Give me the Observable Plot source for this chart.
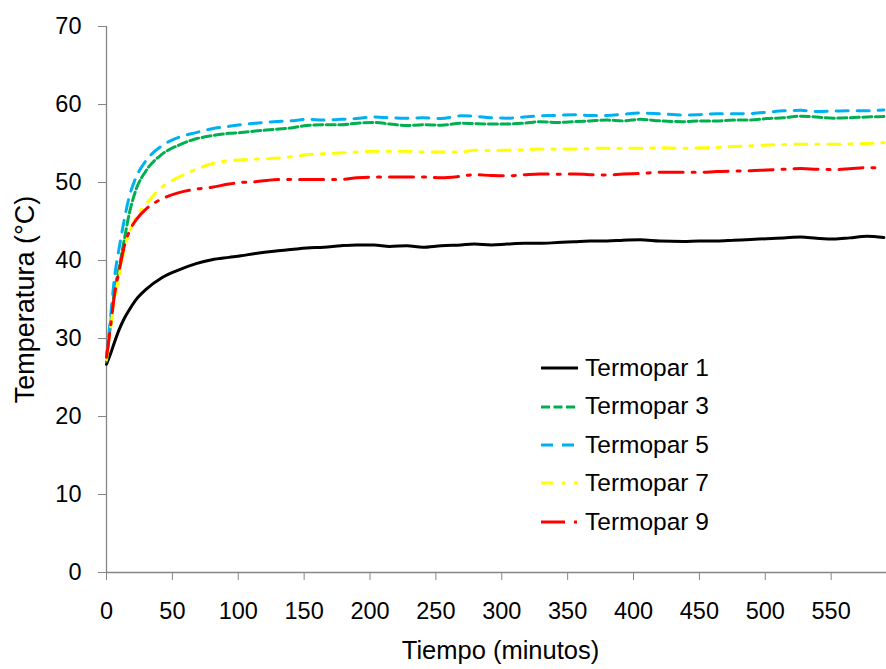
<!DOCTYPE html>
<html>
<head>
<meta charset="utf-8">
<script src="https://cdn.jsdelivr.net/npm/d3@7"></script>
<script src="https://cdn.jsdelivr.net/npm/@observablehq/plot@0.6"></script>
<style>
  html, body { margin: 0; padding: 0; background: white; }
  #wrap { position: relative; width: 886px; height: 669px; font-family: "Liberation Sans", Arial, sans-serif; }
  #legend { position: absolute; left: 540px; top: 349px; }
  .row { display: flex; align-items: center; height: 38.4px; }
  .row svg { width: 40px; height: 10px; margin-right: 5px; }
  .row span { font-size: 24.5px; color: black; line-height: 1; }
</style>
</head>
<body>
<div id="wrap"></div>
<script>
// Time (minutos)
const tiempo = [0, 3, 6, 10, 13, 17, 22, 30, 42, 55, 68, 80, 93, 102, 113, 127, 140, 152, 165, 178, 190, 203, 215, 228, 240, 254, 269, 279, 292, 304, 317, 329, 342, 355, 367, 380, 392, 405, 420, 438, 450, 463, 476, 489, 501, 514, 527, 539, 552, 564, 577, 590];

const termopar1 = [26.7, 28.0, 29.5, 31.3, 32.4, 33.6, 34.9, 36.3, 37.8, 38.8, 39.6, 40.1, 40.4, 40.6, 40.9, 41.2, 41.4, 41.6, 41.7, 41.9, 42.0, 42.0, 41.8, 41.9, 41.7, 41.9, 42.0, 42.1, 42.0, 42.1, 42.2, 42.2, 42.3, 42.4, 42.5, 42.5, 42.6, 42.65, 42.5, 42.45, 42.5, 42.5, 42.6, 42.7, 42.8, 42.9, 43.0, 42.85, 42.75, 42.9, 43.1, 42.95];
const termopar3 = [27.1, 31.7, 36.0, 39.4, 42.2, 45.8, 48.9, 51.5, 53.6, 54.8, 55.6, 56.0, 56.3, 56.4, 56.6, 56.8, 57.0, 57.3, 57.4, 57.4, 57.6, 57.7, 57.5, 57.3, 57.4, 57.35, 57.6, 57.55, 57.5, 57.5, 57.6, 57.8, 57.7, 57.8, 57.9, 58.0, 57.9, 58.1, 57.9, 57.8, 57.9, 57.9, 58.0, 58.0, 58.2, 58.3, 58.5, 58.4, 58.25, 58.3, 58.4, 58.45];
const termopar5 = [27.6, 32.6, 37.7, 42.0, 44.8, 48.0, 50.5, 52.8, 54.7, 55.8, 56.4, 56.9, 57.2, 57.4, 57.6, 57.8, 57.9, 58.1, 58.0, 58.1, 58.2, 58.4, 58.3, 58.25, 58.3, 58.2, 58.55, 58.5, 58.3, 58.25, 58.4, 58.55, 58.6, 58.7, 58.6, 58.6, 58.75, 58.9, 58.8, 58.65, 58.7, 58.8, 58.8, 58.85, 59.0, 59.2, 59.25, 59.1, 59.15, 59.2, 59.2, 59.3];
const termopar7 = [27.3, 31.2, 34.8, 38.4, 41.0, 43.4, 45.4, 47.2, 49.4, 50.7, 51.7, 52.4, 52.8, 52.9, 53.0, 53.1, 53.3, 53.55, 53.7, 53.8, 53.9, 54.0, 54.0, 54.0, 53.9, 53.9, 53.9, 54.15, 54.1, 54.15, 54.2, 54.3, 54.3, 54.3, 54.35, 54.4, 54.4, 54.4, 54.45, 54.4, 54.45, 54.5, 54.6, 54.7, 54.8, 54.85, 54.9, 54.9, 54.9, 54.95, 55.0, 55.1];
const termopar9 = [27.6, 31.4, 35.5, 39.0, 41.5, 43.6, 45.1, 46.6, 47.9, 48.7, 49.15, 49.4, 49.8, 50.0, 50.1, 50.35, 50.4, 50.4, 50.4, 50.4, 50.6, 50.7, 50.7, 50.7, 50.7, 50.6, 50.8, 51.0, 50.9, 50.85, 51.0, 51.1, 51.05, 51.1, 51.0, 50.95, 51.1, 51.15, 51.3, 51.3, 51.3, 51.4, 51.45, 51.5, 51.6, 51.7, 51.8, 51.7, 51.65, 51.75, 51.9, 51.85];

const seriesNames = ["Termopar 1", "Termopar 3", "Termopar 5", "Termopar 7", "Termopar 9"];
const seriesValues = [termopar1, termopar3, termopar5, termopar7, termopar9];
const seriesColors = ["#000000", "#00B050", "#00B0F0", "#FFFF00", "#FF0000"];
const seriesDash = [null, "9,3.5", "12,9", "12,9,3,9", "24,9,3,9"];

const xTicks = [0, 50, 100, 150, 200, 250, 300, 350, 400, 450, 500, 550];
const yTicks = [0, 10, 20, 30, 40, 50, 60, 70];

const lineMarks = seriesNames.map((name, i) => {
  const data = tiempo.map((t, j) => ({t, v: seriesValues[i][j]}));
  return Plot.line(data, {
    x: "t", y: "v",
    stroke: seriesColors[i],
    strokeWidth: 3,
    strokeDasharray: seriesDash[i] || undefined,
    curve: "monotone-x"
  });
});

const chart = Plot.plot({
  width: 886,
  height: 669,
  marginTop: 26,
  marginRight: 0,
  marginBottom: 97,
  marginLeft: 106,
  style: {fontFamily: "'Liberation Sans', Arial, sans-serif", fontSize: "23.5px", color: "black", background: "white", overflow: "visible"},
  x: {domain: [0, 592]},
  y: {domain: [0, 70]},
  marks: [
    Plot.axisX({ticks: xTicks, tickSize: 8, tickPadding: 22, stroke: "#868686", fill: "black", label: null}),
    Plot.axisY({ticks: yTicks, tickSize: 8, tickPadding: 17, stroke: "#868686", fill: "black", label: null}),
    Plot.ruleX([0], {stroke: "#868686", strokeWidth: 1.3}),
    Plot.ruleY([0], {stroke: "#868686", strokeWidth: 1.3}),
    ...lineMarks,
    Plot.text(["Tiempo (minutos)"], {text: d => d, frameAnchor: "bottom", textAnchor: "middle", lineAnchor: "bottom", dy: 86, dx: 4, fontSize: 25.5, fill: "black"}),
    Plot.text(["Temperatura (°C)"], {text: d => d, frameAnchor: "left", textAnchor: "middle", lineAnchor: "top", rotate: -90, dx: -92, fontSize: 27, fill: "black"})
  ]
});

const wrap = document.getElementById("wrap");
wrap.appendChild(chart);

// Legend
const legend = document.createElement("div");
legend.id = "legend";
seriesNames.forEach((name, i) => {
  const row = document.createElement("div");
  row.className = "row";
  const dash = seriesDash[i] ? `stroke-dasharray="${seriesDash[i]}"` : "";
  row.innerHTML = `<svg viewBox="0 0 40 10"><line x1="1" y1="5" x2="38" y2="5" stroke="${seriesColors[i]}" stroke-width="3" ${dash}/></svg><span>${name}</span>`;
  legend.appendChild(row);
});
wrap.appendChild(legend);
</script>
</body>
</html>
